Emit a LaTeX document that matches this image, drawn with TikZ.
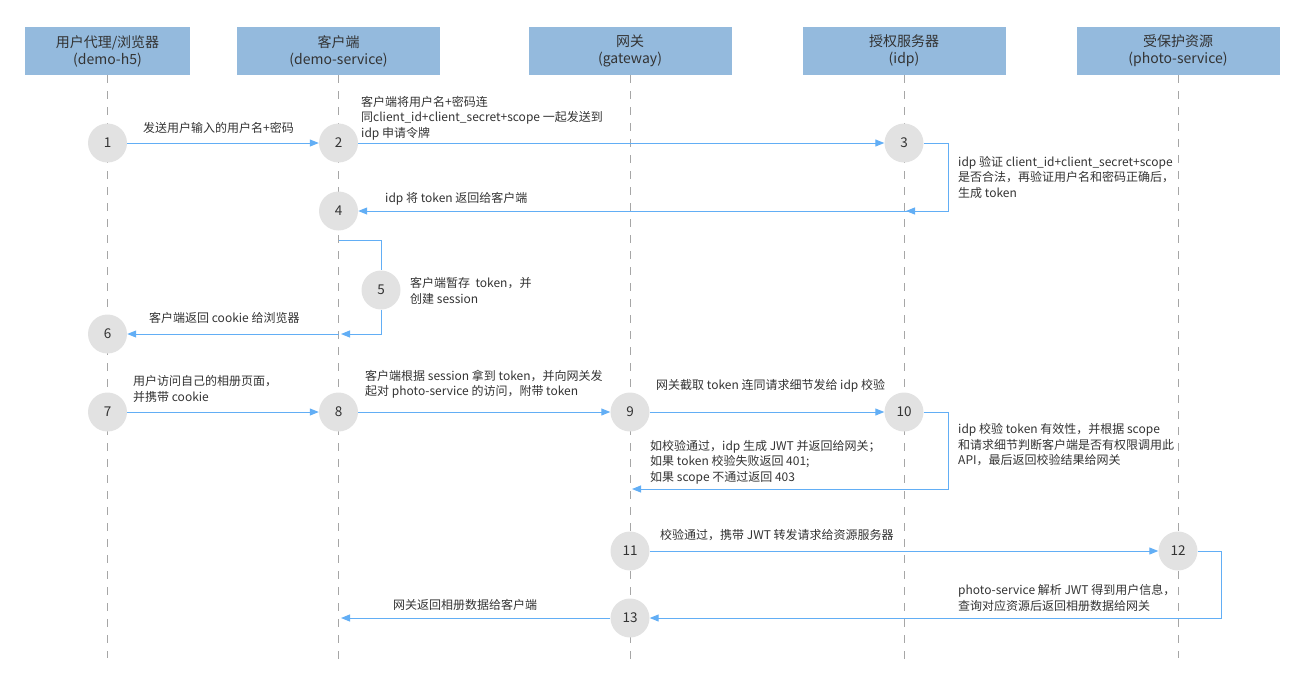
\documentclass[tikz,border=0pt]{standalone}
\usepackage{fontspec}
\setmainfont{Noto Sans CJK SC}
\usetikzlibrary{arrows.meta}
\definecolor{hdrfill}{HTML}{94BADD}
\definecolor{lifegray}{HTML}{A6A6A6}
\definecolor{circfill}{HTML}{E2E2E2}
\definecolor{msgblue}{HTML}{62AEF5}
\definecolor{txt}{HTML}{333333}
\tikzset{
  hdr/.style={fill=hdrfill, minimum width=203pt, minimum height=48pt, inner sep=0pt, align=center, text=txt, font=\fontsize{14}{17}\selectfont},
  life/.style={draw=lifegray, line width=0.8pt, dash pattern=on 8pt off 8pt},
  num/.style={circle, fill=circfill, minimum size=39pt, inner sep=0pt, text=txt, font=\fontsize{13.5}{15}\selectfont},
  msg/.style={draw=msgblue, line width=1pt, -{Triangle[length=9pt,width=7pt]}},
  seg/.style={draw=msgblue, line width=1pt},
  lbl/.style={anchor=west, inner sep=0pt, align=left, text=txt, font=\fontsize{12}{15.5}\selectfont},
}
\begin{document}
\begin{tikzpicture}[x=1pt,y=-1pt]
\useasboundingbox (0,0) rectangle (1304,689);
% headers
\node[hdr, minimum width=165pt] (h1) at (107.5,51) {用户代理/浏览器\\(demo-h5)};
\node[hdr] (h2) at (338.5,51) {客户端\\(demo-service)};
\node[hdr] (h3) at (630,51) {网关\\(gateway)};
\node[hdr] (h4) at (904,51) {授权服务器\\(idp)};
\node[hdr] (h5) at (1178,51) {受保护资源\\(photo-service)};
% lifeline ends
\coordinate (e1) at (107.5,658);
\coordinate (e2) at (338.5,662);
\coordinate (e3) at (630,662);
\coordinate (e4) at (904,662);
\coordinate (e5) at (1178,658);
\draw[life] (h1.south) -- (e1);
\draw[life] (h2.south) -- (e2);
\draw[life] (h3.south) -- (e3);
\draw[life] (h4.south) -- (e4);
\draw[life] (h5.south) -- (e5);
% circles
\node[num] (c1) at (107.5,143) {1};
\node[num] (c2) at (338.5,143) {2};
\node[num] (c3) at (904,143) {3};
\node[num] (c4) at (338.5,211) {4};
\node[num] (c5) at (381,290) {5};
\node[num] (c6) at (107.5,334) {6};
\node[num] (c7) at (107.5,412) {7};
\node[num] (c8) at (338.5,412) {8};
\node[num] (c9) at (630,412) {9};
\node[num] (c10) at (904,412) {10};
\node[num] (c11) at (630,551) {11};
\node[num] (c12) at (1178,551) {12};
\node[num] (c13) at (630,618) {13};
% loop corners
\coordinate (k3a) at (948,143);
\coordinate (k3b) at (948,211);
\coordinate (t3) at (906,211);
\coordinate (k4a) at (338.5,240);
\coordinate (k4b) at (381,240);
\coordinate (k5) at (381,334);
\coordinate (t5) at (341,334);
\coordinate (s6) at (338.5,334);
\coordinate (k10a) at (948,412);
\coordinate (k10b) at (948,489);
\coordinate (t10) at (632,489);
\coordinate (k12a) at (1221,551);
\coordinate (k12b) at (1221,618);
\coordinate (t13) at (341,618);
% messages
\draw[msg] (c1) -- (c2);
\draw[msg] (c2) -- (c3);
\draw[msg] (c3.east) -- (k3a) -- (k3b) -- (t3);
\draw[msg] (k3b) -- (c4.east);
\draw[seg] (k4a) -- (k4b) -- (c5.north);
\draw[msg] (c5.south) -- (k5) -- (t5);
\draw[msg] (s6) -- (c6.east);
\draw[msg] (c7) -- (c8);
\draw[msg] (c8) -- (c9);
\draw[msg] (c9) -- (c10);
\draw[msg] (c10.east) -- (k10a) -- (k10b) -- (t10);
\draw[msg] (c11) -- (c12);
\draw[msg] (c12.east) -- (k12a) -- (k12b) -- (c13.east);
\draw[msg] (c13.west) -- (t13);
% labels
\node[lbl] (l1) at (143,128) {发送用户输入的用户名+密码};
\node[lbl] (l2) at (361,118) {客户端将用户名+密码连\\同client\_id+client\_secret+scope 一起发送到\\idp 申请令牌};
\node[lbl] (l3) at (958,177) {idp 验证 client\_id+client\_secret+scope\\是否合法，再验证用户名和密码正确后，\\生成 token};
\node[lbl] (l4) at (385,199) {idp 将 token 返回给客户端};
\node[lbl] (l5) at (410,291) {客户端暂存\ \ token，并\\创建 session};
\node[lbl] (l6) at (149,318) {客户端返回 cookie 给浏览器};
\node[lbl] (l7) at (133,389) {用户访问自己的相册页面，\\并携带 cookie};
\node[lbl] (l8) at (365,384) {客户端根据 session 拿到 token，并向网关发\\起对 photo-service 的访问，附带 token};
\node[lbl] (l9) at (656,386) {网关截取 token 连同请求细节发给 idp 校验};
\node[lbl] (l10) at (958,445) {idp 校验 token 有效性，并根据 scope\\和请求细节判断客户端是否有权限调用此\\API，最后返回校验结果给网关};
\node[lbl] (l11) at (650,462) {如校验通过，idp 生成 JWT 并返回给网关；\\如果 token 校验失败返回 401;\\如果 scope 不通过返回 403};
\node[lbl] (l12) at (660,535) {校验通过，携带 JWT 转发请求给资源服务器};
\node[lbl] (l13) at (958,598) {photo-service 解析 JWT 得到用户信息，\\查询对应资源后返回相册数据给网关};
\node[lbl] (l14) at (393,605) {网关返回相册数据给客户端};
\end{tikzpicture}
\end{document}
